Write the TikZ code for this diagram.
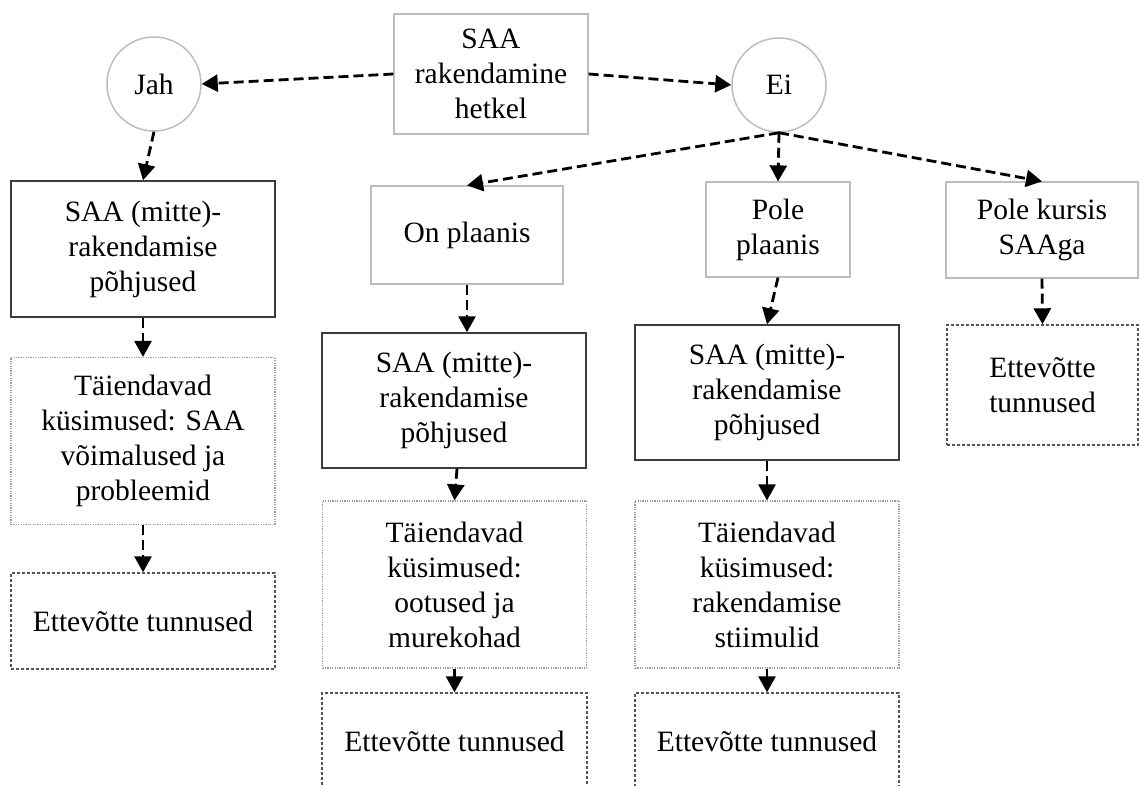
\documentclass[tikz,border=0pt]{standalone}
\usepackage{fontspec}
\setmainfont{Liberation Serif}
\usetikzlibrary{arrows.meta}
\definecolor{lightedge}{HTML}{BDBDBD}
\definecolor{darkedge}{HTML}{3C3C3C}
\definecolor{dotedge}{HTML}{9A9A9A}
\definecolor{dashedge}{HTML}{555555}
\tikzset{
  x=1pt, y=-1pt,
  every node/.style={font=\fontsize{29.5}{35}\selectfont, align=center, inner sep=0pt},
  plainbox/.style={draw=lightedge, line width=1.2pt, rectangle},
  causebox/.style={draw=darkedge, line width=1.5pt, rectangle, minimum width=264pt, minimum height=136pt},
  extrabox/.style={draw=dotedge, line width=1.1pt, dash pattern=on 1.2pt off 1.2pt, rectangle, minimum width=264pt, minimum height=167pt},
  firmbox/.style={draw=dashedge, line width=1.4pt, dash pattern=on 3pt off 2pt, rectangle},
  answer/.style={draw=lightedge, line width=1.5pt, circle, minimum size=94pt},
  flow/.style={draw=black, line width=2.8pt, dash pattern=on 10pt off 5pt, -{Triangle[length=16pt,width=17pt]}}
}
\begin{document}
\begin{tikzpicture}
\useasboundingbox (0,0) rectangle (1140,786);
\clip (0,0) rectangle (1140,786);

% question and answers
\node[plainbox, minimum width=194pt, minimum height=120pt] (q) at (491,74) {SAA\\rakendamine\\hetkel};
\node[answer] (jah) at (154,84) {Jah};
\node[answer] (ei) at (779,85) {Ei};

% "Jah" branch
\node[causebox] (c1) at (143,249) {SAA (mitte)-\\rakendamise\\põhjused};
\node[extrabox] (t1) at (143,441) {Täiendavad\\küsimused: SAA\\võimalused ja\\probleemid};
\node[firmbox, minimum width=264pt, minimum height=96pt] (f1) at (143,621) {Ettevõtte tunnused};

% "Ei" branches
\node[plainbox, minimum width=192pt, minimum height=98pt] (plan) at (467,235) {On plaanis};
\node[plainbox, minimum width=144pt, minimum height=95pt] (noplan) at (778,229.5) {Pole\\plaanis};
\node[plainbox, minimum width=192pt, minimum height=96pt] (unaware) at (1042,230) {Pole kursis\\SAAga};

\node[causebox, minimum height=135pt] (c2) at (454,400.5) {SAA (mitte)-\\rakendamise\\põhjused};
\node[extrabox] (t2) at (454.5,584.5) {Täiendavad\\küsimused:\\ootused ja\\murekohad};
\node[firmbox, minimum width=265pt, minimum height=96pt] (f2) at (454.5,741) {Ettevõtte tunnused};

\node[causebox, minimum height=135pt] (c3) at (767,392.5) {SAA (mitte)-\\rakendamise\\põhjused};
\node[extrabox] (t3) at (767,584.5) {Täiendavad\\küsimused:\\rakendamise\\stiimulid};
\node[firmbox, minimum width=264pt, minimum height=96pt] (f3) at (767,741) {Ettevõtte tunnused};

\node[firmbox, minimum width=191pt, minimum height=120pt] (f4) at (1042.5,385) {Ettevõtte\\tunnused};

% connectors
\draw[flow] (q.west) -- (jah.east);
\draw[flow] (q.east) -- (ei.west);
\draw[flow] (jah.south) -- (c1.north);
\draw[flow] (c1.south) -- (t1.north);
\draw[flow] (t1.south) -- (f1.north);

\draw[flow] (ei.south) -- (plan.north);
\draw[flow] (ei.south) -- (noplan.north);
\draw[flow] (ei.south) -- (unaware.north);

\draw[flow] (plan.south) -- (plan.south |- c2.north);
\draw[flow] ([xshift=3pt]c2.south) -- (t2.north);
\draw[flow] (t2.south) -- (f2.north);

\draw[flow] (noplan.south) -- (c3.north);
\draw[flow] (c3.south) -- (t3.north);
\draw[flow] (t3.south) -- (f3.north);

\draw[flow] (unaware.south) -- (f4.north);
\end{tikzpicture}
\end{document}
